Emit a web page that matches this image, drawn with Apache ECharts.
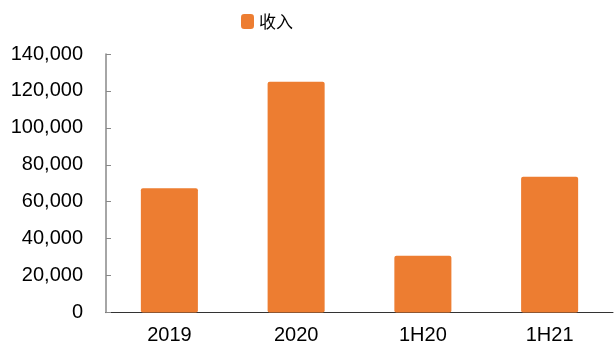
<!DOCTYPE html>
<html>
<head>
<meta charset="utf-8">
<script src="https://cdn.jsdelivr.net/npm/echarts@6/dist/echarts.min.js"></script>
<style>
  html, body { margin: 0; padding: 0; background: #fff; }
  #chart { width: 614px; height: 347px; }
</style>
</head>
<body>
<div id="chart"></div>
<script>
// 数据
const categories = ['2019', '2020', '1H20', '1H21'];
const revenue = [67300, 125000, 30800, 73500];
const seriesName = '收入';

const myChart = echarts.init(document.getElementById('chart'));

myChart.setOption({
  animation: false,
  textStyle: { fontFamily: '"Liberation Sans", Arial, sans-serif' },
  legend: {
    data: [seriesName],
    top: 8,
    left: 236,
    icon: 'roundRect',
    itemWidth: 13,
    itemHeight: 15,
    textStyle: { fontSize: 17, color: '#000', fontFamily: '"Noto Sans CJK SC", sans-serif' }
  },
  grid: { left: 106, right: 1, top: 54, bottom: 34.5, containLabel: false },
  xAxis: {
    type: 'category',
    data: categories,
    axisLine: { lineStyle: { color: '#333', width: 1 } },
    axisTick: { inside: true, length: 5, alignWithLabel: false, lineStyle: { color: '#333' } },
    axisLabel: { fontSize: 20, color: '#000', margin: 13 }
  },
  yAxis: {
    type: 'value',
    min: 0,
    max: 140000,
    interval: 20000,
    axisLine: { show: true, lineStyle: { color: '#888', width: 1.5 } },
    axisTick: { show: true, inside: true, length: 5, lineStyle: { color: '#888' } },
    splitLine: { show: false },
    axisLabel: {
      fontSize: 20,
      color: '#000',
      margin: 23,
      formatter: v => v.toLocaleString('en-US')
    }
  },
  series: [{
    name: seriesName,
    type: 'bar',
    data: revenue,
    barWidth: '45%',
    itemStyle: { color: '#ED7D31', borderRadius: 2 }
  }]
});
</script>
</body>
</html>
